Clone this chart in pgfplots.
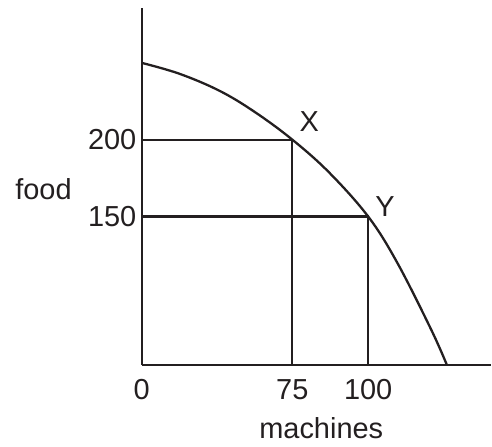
\documentclass[border=0pt]{standalone}
\usepackage{pgfplots}
\pgfplotsset{compat=1.18}
\usepackage{fontspec}
\setmainfont{Liberation Sans}
\definecolor{ink}{RGB}{35,31,32}
\begin{document}
\begin{tikzpicture}
\begin{axis}[
  x=0.5pt, y=0.5pt,
  xmin=0, xmax=350, ymin=0, ymax=358,
  axis lines=left,
  axis line style={-, draw=ink, line width=1.15pt},
  xtick={0,151,227}, xticklabels={0,75,100},
  ytick={149,226}, yticklabels={150,200},
  major tick length=0pt,
  /pgf/number format/assume math mode=true,
  tick label style={font=\fontsize{14.5}{17}\selectfont, text=ink, inner sep=0pt},
  xticklabel style={anchor=north, yshift=-7pt},
  yticklabel style={anchor=east, xshift=-2.5pt},
  xlabel={machines},
  xlabel style={at={(axis description cs:0.5143,-0.2067)}, anchor=base, font=\fontsize{14.5}{17}\selectfont, text=ink, inner sep=0pt},
  ylabel={food},
  ylabel style={at={(axis description cs:-0.3629,0.4637)}, anchor=base west, rotate=-90, font=\fontsize{14.5}{17}\selectfont, text=ink, inner sep=0pt},
  clip=false,
]
\path (axis cs:-142,-82) rectangle (axis cs:350,366);
% frontier
\addplot[ink, line width=1.15pt, smooth, tension=0.6, no marks] coordinates {
  (0,303) (38,292) (78,275) (113,254) (151,226) (188,193) (227,149) (256,103) (290,36) (306,0)
};
% guide lines to X
\addplot[ink, line width=1.15pt, no marks] coordinates {(0,226) (151,226) (151,0)};
% guide lines to Y
\addplot[ink, line width=1.15pt, no marks] coordinates {(0,149) (227,149) (227,0)};
\node[font=\fontsize{14.5}{17}\selectfont, text=ink, inner sep=0pt] at (axis cs:168,244) {X};
\node[font=\fontsize{14.5}{17}\selectfont, text=ink, inner sep=0pt] at (axis cs:244,159) {Y};
\end{axis}
\end{tikzpicture}
\end{document}
